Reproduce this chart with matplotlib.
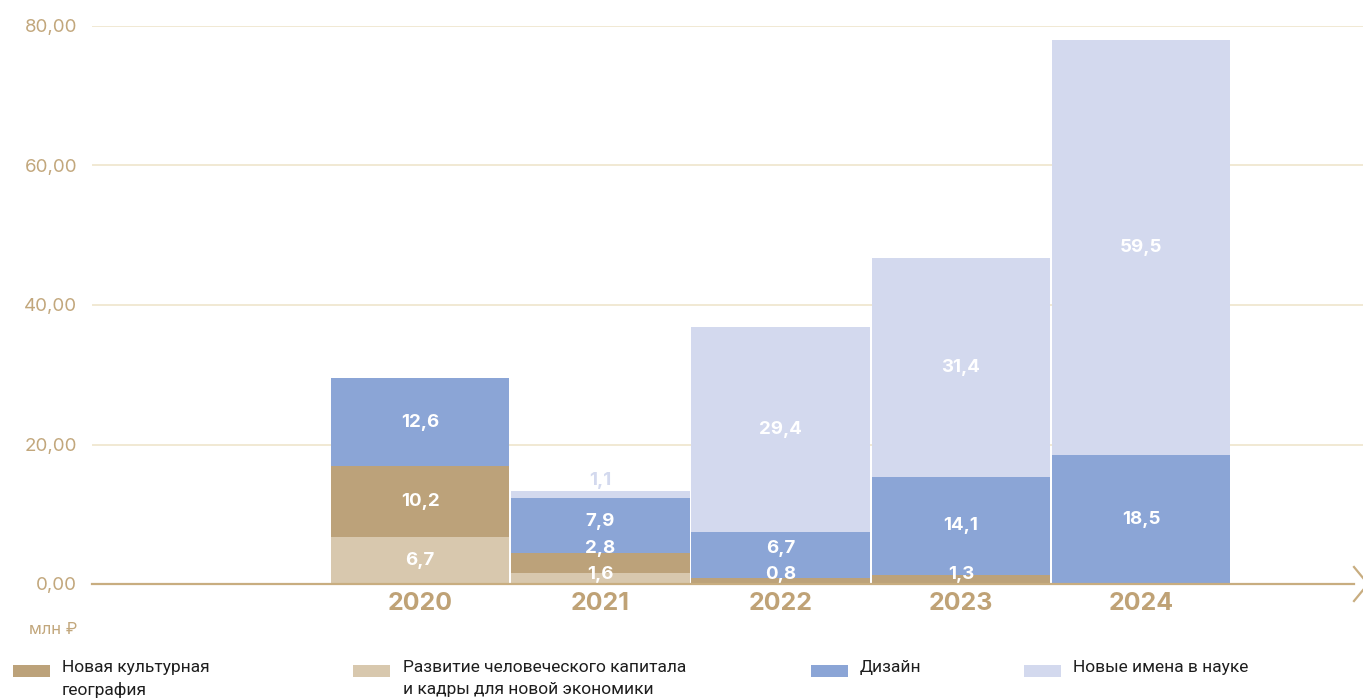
import matplotlib
matplotlib.use("Agg")
import matplotlib.pyplot as plt
from matplotlib.patches import Rectangle
from matplotlib.lines import Line2D

years = ["2020", "2021", "2022", "2023", "2024"]
series_names = [
    "Развитие человеческого капитала\nи кадры для новой экономики",
    "Новая культурная\nгеография",
    "Дизайн",
    "Новые имена в науке",
]
kadry = [6.7, 1.6, 0.0, 0.0, 0.0]
geo = [10.2, 2.8, 0.8, 1.3, 0.0]
design = [12.6, 7.9, 6.7, 14.1, 18.5]
nauka = [0.0, 1.1, 29.4, 31.4, 59.5]
yticks = [0, 20, 40, 60, 80]
ytick_labels = ["0,00", "20,00", "40,00", "60,00", "80,00"]
unit_label = "млн ₽"

colors = ["#d8c8ae", "#bca27a", "#8ba5d6", "#d3d9ee"]
legend_order = [1, 0, 2, 3]
tan_text = "#c2a77c"

W, H = 1363, 700
fig = plt.figure(figsize=(W / 100, H / 100), dpi=100)
ax_left, ax_right, ax_bottom, ax_top = 92, 1363, 584, 26
ax_w = ax_right - ax_left
ax = fig.add_axes([ax_left / W, 1 - ax_bottom / H, ax_w / W, (ax_bottom - ax_top) / H])
ax.set_xlim(-1.82, 5.23)
ax.set_ylim(0, 80)
for s in ax.spines.values():
    s.set_visible(False)
ax.set_xticks([])
ax.set_yticks([])

for v in yticks[1:]:
    ax.axhline(v, color="#efe5cc", lw=1.2, zorder=0)

fam = ["Inter", "DejaVu Sans"]
for v, lab in zip(yticks, ytick_labels):
    ax.text(-15 / ax_w, v - 0.25, lab, ha="right", va="center", fontsize=13.5, color=tan_text,
            family=fam, transform=ax.get_yaxis_transform(), clip_on=False)

series = [kadry, geo, design, nauka]
x = list(range(len(years)))
bottoms = [0.0] * len(years)
bar_w = 0.99
for si, vals in enumerate(series):
    ax.bar(x, vals, bottom=bottoms, width=bar_w, color=colors[si], linewidth=0, zorder=2)
    bottoms = [b + v for b, v in zip(bottoms, vals)]

# value labels
for i in range(len(years)):
    base = 0.0
    prev = None
    segs = [(si, series[si][i]) for si in range(4) if series[si][i] > 0]
    for k, (si, v) in enumerate(segs):
        is_top = k == len(segs) - 1
        lab = f"{v:.1f}".replace(".", ",")
        if is_top and v < 2 and len(segs) > 1:
            y = base + v + 1.4
            ax.text(i, y, lab, ha="center", va="center", fontsize=13.5, fontweight="bold",
                    color=colors[si], family=fam, zorder=3)
        else:
            y = base + v / 2
            y = max(y, 1.3)
            if prev is not None:
                y = max(y, prev + 3.8)
            ax.text(i, y, lab, ha="center", va="center", fontsize=13.5, fontweight="bold",
                    color="white", family=fam, zorder=3)
            prev = y
        base += v

# zero axis line with arrow
fig.add_artist(Line2D([ax_left / W, 1354 / W], [1 - 584 / H, 1 - 584 / H], color="#c8ad80", lw=1.6))
fig.add_artist(Line2D([1354 / W, 1368 / W, 1354 / W], [1 - 567 / H, 1 - 584 / H, 1 - 601 / H],
                      color="#c8ad80", lw=1.6))

# year labels
for i, yr in enumerate(years):
    ax.text(i, -2.8, yr, ha="center", va="center", fontsize=18, fontweight="bold",
            color="#bfa276", family=fam, clip_on=False)

fig.text(77 / W, 1 - 629 / H, unit_label, ha="right", va="center", fontsize=12,
         color=tan_text, family=["Inter", "DejaVu Sans"])

# legend
patch_x = [13, 353, 811, 1024]
text_x = [62, 403, 860, 1073]
for k, si in enumerate(legend_order):
    fig.add_artist(Rectangle((patch_x[k] / W, 1 - 677 / H), 37 / W, 12 / H,
                             transform=fig.transFigure, color=colors[si], lw=0))
    fig.text(text_x[k] / W, 1 - 660 / H, series_names[si], ha="left", va="top",
             fontsize=12.5, color="#1e1e1e", family=["Roboto", "DejaVu Sans"], linespacing=1.55)

fig.savefig("out.png", dpi=100)
